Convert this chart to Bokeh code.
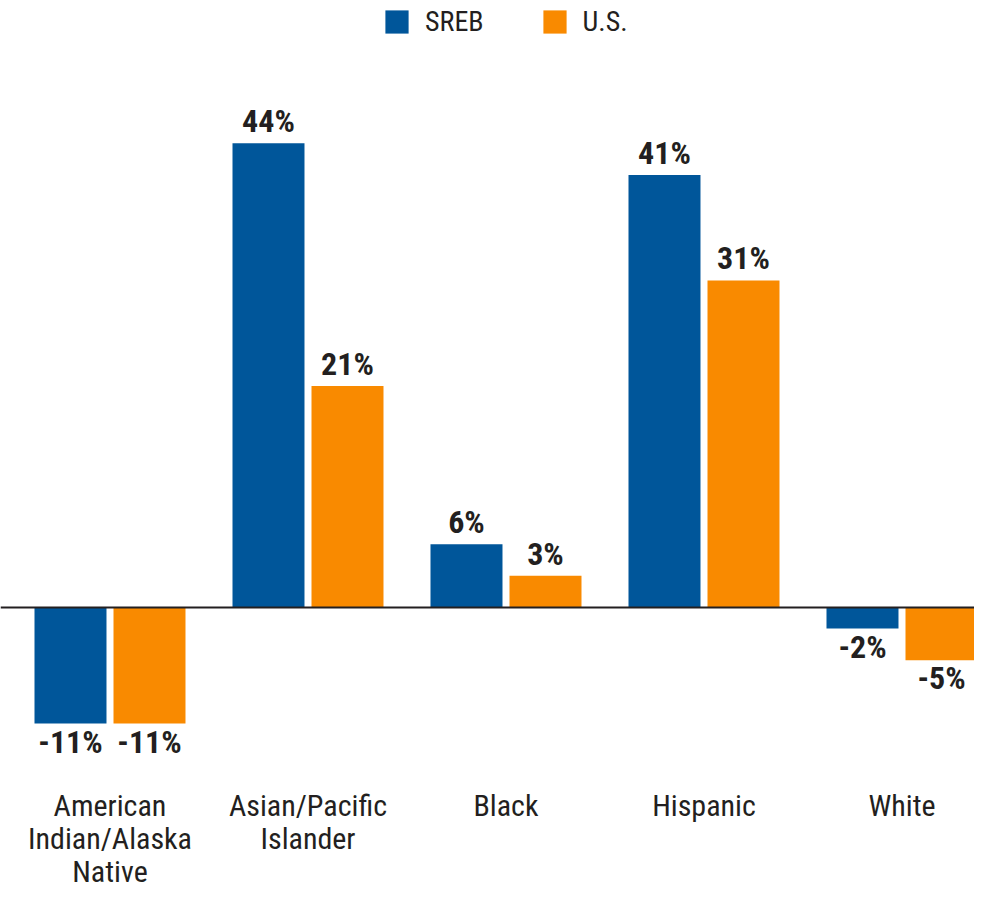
from bokeh.plotting import figure
from bokeh.models import ColumnDataSource, Range1d, Span, Legend, LegendItem
from bokeh.core.properties import value
from bokeh.embed import file_html
from bokeh.resources import INLINE

categories = ["American\nIndian/Alaska\nNative", "Asian/Pacific\nIslander", "Black", "Hispanic", "White"]
sreb = [-11, 44, 6, 41, -2]
us = [-11, 21, 3, 31, -5]
series_names = ["SREB", "U.S."]
colors = ["#00569a", "#f98a00"]

FONT = "Roboto Condensed, Roboto"
TEXT_COLOR = "#231f20"

x = list(range(len(categories)))
bar_w = 0.3636
off = 0.1995

p = figure(width=974, height=893, output_backend="svg", toolbar_location=None,
           x_range=Range1d(-0.553, 4.3662), y_range=Range1d(-27.11, 57.54),
           min_border=0, outline_line_color=None, background_fill_color="white")
p.xaxis.visible = False
p.yaxis.visible = False
p.xgrid.visible = False
p.ygrid.visible = False

renderers = []
for vals, sign, col in zip([sreb, us], [-1, 1], colors):
    xs = [i + sign * off for i in x]
    src = ColumnDataSource(dict(x=xs, top=vals))
    r = p.vbar(x="x", top="top", bottom=0, width=bar_w, source=src,
               fill_color=col, line_color=None)
    renderers.append(r)
    pos = ColumnDataSource(dict(x=[a for a, v in zip(xs, vals) if v >= 0],
                                y=[v for v in vals if v >= 0],
                                t=[f"{v}%" for v in vals if v >= 0]))
    neg = ColumnDataSource(dict(x=[a for a, v in zip(xs, vals) if v < 0],
                                y=[v for v in vals if v < 0],
                                t=[f"{v}%" for v in vals if v < 0]))
    for s, yo in ((pos, -22), (neg, 18)):
        p.text(x="x", y="y", text="t", source=s, text_align="center",
               text_baseline="alphabetic", y_offset=yo,
               text_font=value(FONT), text_font_size="32px", text_font_style="bold",
               text_color=TEXT_COLOR)

p.add_layout(Span(location=0, dimension="width", line_color=TEXT_COLOR, line_width=2))

cat_src = ColumnDataSource(dict(x=x, y=[-17.07] * len(x), t=categories))
p.text(x="x", y="y", text="t", source=cat_src, text_align="center",
       text_baseline="top", text_font=value(FONT), text_font_size="30px",
       text_color=TEXT_COLOR, text_line_height=0.956)

legend = Legend(items=[LegendItem(label=n, renderers=[r]) for n, r in zip(series_names, renderers)],
                orientation="horizontal", location=(382, 855),
                glyph_width=29, glyph_height=29, label_standoff=14, spacing=56,
                padding=0, margin=0, border_line_color=None, background_fill_alpha=0,
                label_text_font=FONT, label_text_font_size="28px", label_text_color=TEXT_COLOR)
p.add_layout(legend)

open("out.html", "w").write(file_html(p, INLINE))
